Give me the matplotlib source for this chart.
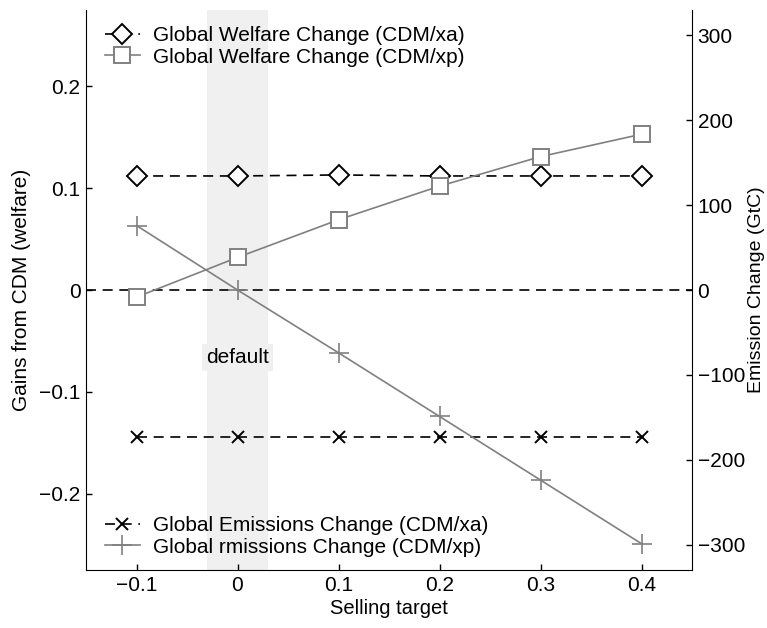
import matplotlib
matplotlib.use('Agg')
import matplotlib.pyplot as plt

plt.rcParams['font.family'] = ['Liberation Sans', 'DejaVu Sans']
plt.rcParams['font.size'] = 15

# data
target = [-0.1, 0, 0.1, 0.2, 0.3, 0.4]
welfare_xa = [0.112, 0.112, 0.113, 0.112, 0.112, 0.112]
welfare_xp = [-0.007, 0.032, 0.069, 0.102, 0.131, 0.153]
emis_xa = [-173, -173, -173, -173, -173, -173]
emis_xp = [76, 0, -74, -149, -224, -299]

gray = '#808080'

fig = plt.figure(figsize=(7.67, 6.28), dpi=100)
ax = fig.add_axes([86/767, 58/628, 606/767, 560/628])
ax2 = ax.twinx()

# default band
ax.axvspan(-0.03, 0.03, color='#f0f0f0', zorder=0, lw=0)
ax.text(0, -0.066, 'default', ha='center', va='center', fontsize=15,
        bbox=dict(facecolor='#f0f0f0', edgecolor='none', pad=3))
ax.axhline(0, color='black', ls=(0, (6, 4)), lw=1.2, zorder=1)

l1, = ax.plot(target, welfare_xa, color='black', ls=(0, (6, 4)), lw=1.2,
              marker='D', markersize=10, mfc='white', mec='black', mew=1.4,
              label='Global Welfare Change (CDM/xa)')
l2, = ax.plot(target, welfare_xp, color=gray, lw=1.2,
              marker='s', markersize=12, mfc='white', mec=gray, mew=1.4,
              label='Global Welfare Change (CDM/xp)')
l3, = ax2.plot(target, emis_xa, color='black', ls=(0, (6, 4)), lw=1.2,
               marker='x', markersize=8, mew=1.4,
               label='Global Emissions Change (CDM/xa)')
l4, = ax2.plot(target, emis_xp, color=gray, lw=1.2,
               marker='+', markersize=14, mew=1.2,
               label='Global rmissions Change (CDM/xp)')

ax.set_xlim(-0.15, 0.45)
ax.set_ylim(-0.275, 0.275)
ax2.set_ylim(-330, 330)

ax.set_xticks(target)
ax.set_xticklabels(['\u22120.1', '0', '0.1', '0.2', '0.3', '0.4'])
ax.set_yticks([-0.2, -0.1, 0, 0.1, 0.2])
ax.set_yticklabels(['\u22120.2', '\u22120.1', '0', '0.1', '0.2'])
ax2.set_yticks([-300, -200, -100, 0, 100, 200, 300])
ax2.set_yticklabels(['\u2212300', '\u2212200', '\u2212100', '0', '100', '200', '300'])

for a in (ax, ax2):
    a.tick_params(direction='in', length=4, width=1, labelsize=15, pad=4)
    a.spines['top'].set_visible(False)
ax.spines['right'].set_visible(False)
ax2.spines['left'].set_visible(False)
ax2.spines['bottom'].set_visible(False)

ax.set_xlabel('Selling target', fontsize=14.5, labelpad=3)
ax.set_ylabel('Gains from CDM (welfare)', fontsize=15, labelpad=6)
ax2.set_ylabel('Emission Change (GtC)', fontsize=14, labelpad=2)

leg_kw = dict(frameon=False, handlelength=1.7, handletextpad=0.6,
              borderaxespad=0, borderpad=0, labelspacing=0.12, fontsize=15)
leg1 = ax2.legend(handles=[l1, l2], loc='upper left',
                  bbox_to_anchor=(0.031, 0.971), **leg_kw)
ax2.add_artist(leg1)
ax2.legend(handles=[l3, l4], loc='lower left',
           bbox_to_anchor=(0.031, 0.024), **leg_kw)

fig.savefig('out.png', dpi=100)
